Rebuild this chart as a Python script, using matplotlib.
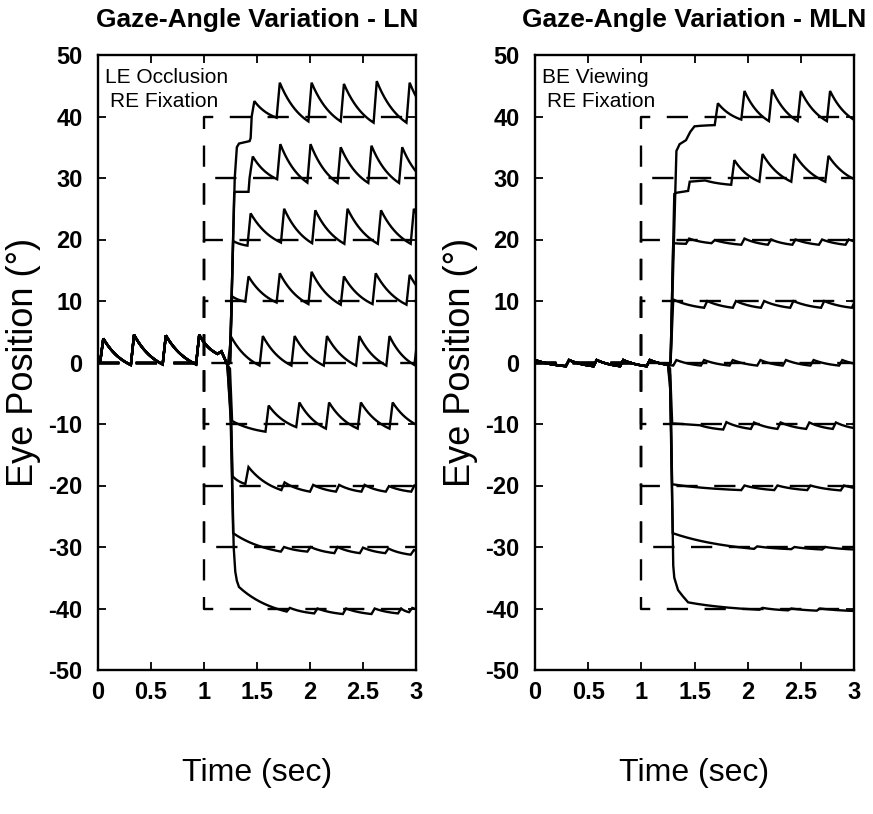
import numpy as np
import matplotlib
matplotlib.use('Agg')
import matplotlib.pyplot as plt
from matplotlib import font_manager

# ---------------- data ----------------
targets = [40, 30, 20, 10, 0, -10, -20, -30, -40]
panel_titles = ['Gaze-Angle Variation - LN', 'Gaze-Angle Variation - MLN']
panel_note1 = ['LE Occlusion', 'BE Viewing']
panel_note2 = ['RE Fixation', 'RE Fixation']
x_ticks = [0, 0.5, 1, 1.5, 2, 2.5, 3]
x_ticklabels = ['0', '0.5', '1', '1.5', '2', '2.5', '3']
y_ticks = [-50, -40, -30, -20, -10, 0, 10, 20, 30, 40, 50]
y_ticklabels = ['-50', '-40', '-30', '-20', '-10', '0', '10', '20', '30', '40', '50']
step_time = 1.0          # time of the target step
x_end = 3.0

# ---- LN panel: common part before the saccade (beats = onset time, trough, peak)
ln_pre_start = (0.0, 0.0)
ln_pre_beat_t = [0.02, 0.31, 0.61, 0.925]
ln_pre_beat_lo = [0.0, -0.4, -0.3, -0.3]
ln_pre_beat_hi = [3.9, 4.5, 4.4, 4.5]
ln_pre_tail = [(1.127, 1.4), (1.165, 1.8), (1.22, -0.35)]

# ---- LN panel: saccade / transition points per target
ln_trans = [
    [(1.245, 0), (1.29, 30), (1.31, 35.0), (1.33, 35.6), (1.43, 36.0), (1.44, 36.5), (1.45, 40), (1.475, 42.5)],
    [(1.245, 0), (1.285, 27.6), (1.30, 27.75), (1.42, 27.75), (1.43, 30), (1.46, 33.5)],
    [(1.245, 0), (1.275, 19.75)],
    [(1.245, 0), (1.265, 10.75)],
    [],
    [(1.245, -1), (1.265, -9.5)],
    [(1.25, -5), (1.27, -18.5)],
    [(1.25, -8), (1.275, -27.75)],
    [(1.255, -10), (1.28, -30), (1.295, -34), (1.31, -35.5), (1.33, -36.5)],
]
ln_beat_t = [
    [1.685, 1.985, 2.29, 2.60, 2.91, 3.21],
    [1.69, 1.975, 2.26, 2.55, 2.84, 3.13],
    [1.41, 1.726, 2.02, 2.324, 2.64, 2.95, 3.25],
    [1.39, 1.685, 1.985, 2.29, 2.59, 2.91, 3.2],
    [1.225, 1.525, 1.825, 2.13, 2.435, 2.72, 2.985],
    [1.58, 1.87, 2.15, 2.45, 2.75, 3.05],
    [1.39, 1.73, 2.0, 2.245, 2.485, 2.715, 2.955, 3.2],
    [1.725, 1.975, 2.23, 2.47, 2.71, 2.95, 3.2],
    [1.78, 2.04, 2.31, 2.58, 2.83, 2.935, 3.2],
]
ln_beat_lo = [
    [39.8, 39.2, 39.2, 39.0, 39.0, 39.0],
    [29.8, 29.25, 29.2, 29.2, 29.2, 29.0],
    [19.0, 19.5, 19.4, 19.3, 19.3, 19.3, 19.3],
    [9.9, 9.75, 9.5, 9.4, 9.5, 9.4, 9.5],
    [-0.35, -0.5, -0.5, -0.5, -0.5, -0.5, -0.4],
    [-11.25, -10.5, -10.75, -10.75, -10.75, -10.5],
    [-19.75, -20.75, -21.0, -21.0, -21.0, -21.0, -21.0, -21.25],
    [-30.75, -30.75, -31.0, -31.0, -31.0, -31.25, -31.25],
    [-40.5, -40.8, -40.9, -40.9, -40.8, -40.6, -40.8],
]
ln_beat_hi = [
    [45.5, 45.5, 45.3, 45.75, 45.5, 45.5],
    [35.5, 35.5, 35.0, 35.25, 35.0, 35.0],
    [24.25, 25.0, 24.75, 25.0, 24.75, 25.0, 25.0],
    [14.0, 14.5, 14.75, 14.0, 14.5, 14.25, 14.5],
    [4.2, 4.3, 4.3, 4.3, 4.3, 4.3, 4.0],
    [-7.0, -6.5, -6.5, -6.5, -6.5, -6.5],
    [-17.0, -19.5, -19.9, -19.9, -19.9, -20.1, -20.0, -20.0],
    [-30.0, -30.0, -30.0, -30.1, -30.25, -30.5, -30.5],
    [-39.9, -40.0, -40.0, -40.0, -40.0, -39.9, -40.0],
]

# ---- MLN panel
mln_pre_start = (0.0, 0.4)
mln_pre_beat_t = [0.29, 0.55, 0.80, 1.05]
mln_pre_beat_lo = [-0.6, -0.6, -0.6, -0.6]
mln_pre_beat_hi = [0.4, 0.4, 0.4, 0.4]
mln_pre_tail = [(1.25, -0.35)]

mln_trans = [
    [(1.275, 0), (1.33, 34.4), (1.36, 35.5), (1.42, 36.15), (1.46, 37.5), (1.50, 38.4)],
    [(1.275, 0), (1.31, 27.4), (1.33, 27.6), (1.44, 27.9), (1.455, 29.4), (1.60, 29.6)],
    [(1.275, 0), (1.30, 19.4)],
    [(1.275, 0), (1.30, 10.25)],
    [],
    [(1.27, -1), (1.29, -9.9), (1.55, -10.2)],
    [(1.27, -2), (1.29, -19.8)],
    [(1.27, -3), (1.295, -27.75)],
    [(1.275, -5), (1.30, -33), (1.31, -35), (1.345, -37), (1.39, -38), (1.44, -39)],
]
mln_beat_t = [
    [1.69, 1.94, 2.20, 2.47, 2.745, 3.02],
    [1.845, 2.11, 2.41, 2.73, 3.04],
    [1.42, 1.66, 1.94, 2.19, 2.42, 2.67, 2.92, 3.17],
    [1.59, 1.86, 2.125, 2.40, 2.69, 2.98, 3.25],
    [1.30, 1.56, 1.83, 2.09, 2.33, 2.59, 2.86, 3.12],
    [1.77, 2.03, 2.28, 2.55, 2.80, 3.05],
    [1.94, 2.25, 2.56, 2.875, 3.19],
    [2.06, 2.41, 2.70, 3.0],
    [2.11, 2.38, 2.65, 3.0],
]
mln_beat_lo = [
    [38.6, 39.5, 39.25, 39.25, 39.25, 39.25],
    [28.9, 29.4, 29.4, 29.4, 29.5],
    [19.3, 19.4, 19.15, 19.15, 19.15, 19.15, 19.15, 19.15],
    [8.9, 8.9, 8.9, 8.9, 8.9, 8.9, 8.9],
    [-0.5, -0.5, -0.5, -0.5, -0.5, -0.5, -0.5, -0.5],
    [-10.9, -10.8, -10.8, -10.8, -10.8, -10.8],
    [-20.75, -20.75, -20.75, -20.8, -20.8],
    [-30.3, -30.35, -30.4, -30.4],
    [-40.2, -40.3, -40.35, -40.4],
]
mln_beat_hi = [
    [42.15, 44.15, 44.4, 44.15, 44.15, 44.0],
    [32.9, 33.9, 33.9, 33.6, 33.6],
    [20.15, 19.9, 20.15, 20.0, 20.0, 20.0, 20.0, 20.0],
    [10.0, 10.0, 10.0, 10.0, 10.0, 10.0, 10.0],
    [0.4, 0.4, 0.4, 0.4, 0.4, 0.4, 0.4, 0.4],
    [-9.7, -9.75, -9.75, -9.75, -9.75, -9.75],
    [-20.0, -20.0, -20.0, -20.0, -20.0],
    [-29.9, -30.0, -30.0, -30.0],
    [-39.9, -40.0, -40.0, -40.0],
]

# ---------------- style ----------------
FAST = 0.03      # fast-phase duration (s)
CURV = 1.3       # curvature of the decelerating slow phase
LW = 1.7

def has_font(name):
    try:
        font_manager.findfont(name, fallback_to_default=False)
        return True
    except Exception:
        return False

main_family = 'Liberation Sans' if has_font('Liberation Sans') else 'DejaVu Sans'
plt.rcParams['font.family'] = [main_family, 'DejaVu Sans']


def slow_phase(p0, p1, n=24):
    t0, y0 = p0
    t1, y1 = p1
    s = np.linspace(0, 1, n)[1:]
    f = (np.exp(-CURV * s) - np.exp(-CURV)) / (1 - np.exp(-CURV))
    return list(zip(t0 + (t1 - t0) * s, y1 + (y0 - y1) * f))


def add_beats(pts, bt, blo, bhi):
    for t, lo, hi in zip(bt, blo, bhi):
        pts += slow_phase(pts[-1], (t, lo))
        pts.append((t + FAST, hi))
    return pts


def build_pre(start, bt, blo, bhi, tail):
    pts = [start]
    add_beats(pts, bt, blo, bhi)
    pts += slow_phase(pts[-1], tail[0])
    pts += list(tail[1:])
    return pts


fig = plt.figure(figsize=(8.73, 8.14), dpi=100)
W, H = 873.0, 814.0
axes_px = [(98, 416), (535, 854)]
top_px, bot_px = 55, 670

panels = [
    (ln_pre_start, ln_pre_beat_t, ln_pre_beat_lo, ln_pre_beat_hi, ln_pre_tail,
     ln_trans, ln_beat_t, ln_beat_lo, ln_beat_hi),
    (mln_pre_start, mln_pre_beat_t, mln_pre_beat_lo, mln_pre_beat_hi, mln_pre_tail,
     mln_trans, mln_beat_t, mln_beat_lo, mln_beat_hi),
]

for k, (pstart, pbt, pblo, pbhi, ptail, trans, bts, blos, bhis) in enumerate(panels):
    x0, x1 = axes_px[k]
    ax = fig.add_axes([x0 / W, 1 - bot_px / H, (x1 - x0) / W, (bot_px - top_px) / H])

    # target (dashed) lines
    for T in targets:
        ax.plot([0, step_time, step_time, x_end], [0, 0, T, T], color='black',
                lw=LW, linestyle=(0, (9, 7)), zorder=2, dash_capstyle='butt')

    pre = build_pre(pstart, pbt, pblo, pbhi, ptail)
    for i, T in enumerate(targets):
        pts = list(pre) + list(trans[i])
        add_beats(pts, bts[i], blos[i], bhis[i])
        arr = np.array(pts)
        ax.plot(arr[:, 0], arr[:, 1], color='black', lw=LW, zorder=3,
                solid_joinstyle='miter')

    ax.set_xlim(0, 3)
    ax.set_ylim(-50, 50)
    ax.set_xticks(x_ticks)
    ax.set_xticklabels(x_ticklabels)
    ax.set_yticks(y_ticks)
    ax.set_yticklabels(y_ticklabels)
    ax.tick_params(direction='in', length=6, width=1.3, top=True, right=True,
                   labelsize=17)
    ax.tick_params(axis='y', pad=11)
    ax.tick_params(axis='x', pad=8)
    for lab in ax.get_xticklabels() + ax.get_yticklabels():
        lab.set_fontweight('bold')
    for sp in ax.spines.values():
        sp.set_linewidth(1.7)

    ax.set_title(panel_titles[k], fontsize=19, fontweight='bold', pad=20)
    ax.set_ylabel('Eye Position (°)', fontsize=26)
    ax.yaxis.set_label_coords(-0.18, 0.5)
    ax.set_xlabel('Time (sec)', fontsize=23)
    ax.xaxis.set_label_coords(0.5, -0.143)

    ax.text(0.07, 46.3, panel_note1[k], fontsize=15, ha='left', va='center')
    ax.text(0.115, 42.5, panel_note2[k], fontsize=15, ha='left', va='center')

fig.savefig('out.png', dpi=100)
